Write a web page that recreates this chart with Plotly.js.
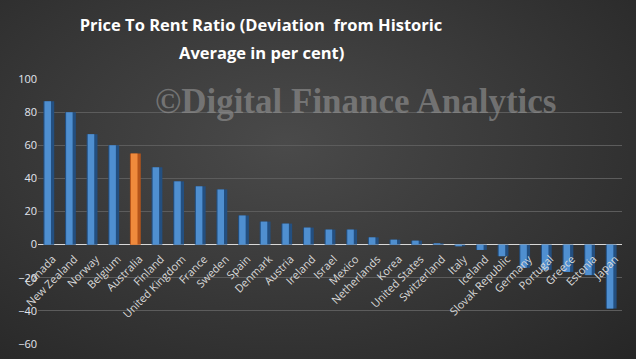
<!DOCTYPE html>
<html><head><meta charset="utf-8">
<script src="https://cdn.plot.ly/plotly-3.0.1.min.js"></script>
<style>
html,body{margin:0;padding:0;}
#chart{width:636px;height:359px;background:radial-gradient(ellipse at 45% 40%, #4a4a4a 0%, #3a3a3a 45%, #262626 100%);}
</style></head>
<body><div id="chart"></div>
<script>
const countries = ["Canada","New Zealand","Norway","Belgium","Australia","Finland","United Kingdom","France","Sweden","Spain","Denmark","Austria","Ireland","Israel","Mexico","Netherlands","Korea","United States","Switzerland","Italy","Iceland","Slovak Republic","Germany","Portugal","Greece","Estonia","Japan"];
const deviation = [86.5,80,66.7,60,55,46.7,38.2,35.2,33.3,17.6,13.9,12.7,10.3,9.1,9.1,4.4,3,2.4,0.8,-1,-3.2,-7,-14,-15.4,-16.5,-18.4,-38.6];
const highlight = "Australia";
const yTicks = [-60,-40,-20,0,20,40,60,80,100];

const baseColors = countries.map(c => c === highlight ? "#b5541a" : "#234f80");
const midColors = countries.map(c => c === highlight ? "#f08a3c" : "#4f8fd0");

const traces = [
  {type:"bar", x:countries, y:deviation, width:0.5, marker:{color:baseColors, line:{width:0}}, hoverinfo:"skip"},
  {type:"bar", x:countries, y:deviation, width:0.3, offset:-0.2, marker:{color:midColors, line:{width:0}}, hoverinfo:"skip"}
];

const layout = {
  width:636, height:359,
  paper_bgcolor:"rgba(0,0,0,0)", plot_bgcolor:"rgba(0,0,0,0)",
  margin:{l:38, r:14, t:79, b:15},
  barmode:"overlay",
  showlegend:false,
  title:{text:"Price To Rent Ratio (Deviation  from Historic", font:{family:"Open Sans", size:16.5, color:"#ffffff", weight:"bold"}, x:261/636, xanchor:"center", y:1-25/359, yanchor:"middle", yref:"container", xref:"container"},
  xaxis:{type:"category", range:[-0.5,countries.length-0.5], anchor:"free", position:60/160, showline:false, showgrid:false, ticks:"", tickangle:-45, ticklabelstandoff:5, ticklabelshift:4, tickfont:{family:"Open Sans", size:11, color:"#d9d9d9"}, fixedrange:true},
  yaxis:{range:[-60,100], tickvals:yTicks, showgrid:true, gridcolor:"#5c5c5c", gridwidth:1, zeroline:true, zerolinecolor:"#d8d8d8", zerolinewidth:1.5, tickfont:{family:"Open Sans", size:11, color:"#e2e6ee"}, ticks:"", fixedrange:true},
  annotations:[
    {text:"<b>Average in per cent)</b>", xref:"paper", yref:"paper", x:(261-38)/584, y:1+(79-52)/265, xanchor:"center", yanchor:"middle", showarrow:false, font:{family:"Open Sans", size:16.5, color:"#ffffff"}},
    {text:"<b>©Digital Finance Analytics</b>", xref:"paper", yref:"paper", x:(355-38)/584, y:(344-101)/265, xanchor:"center", yanchor:"middle", showarrow:false, font:{family:"Liberation Serif", size:35, color:"rgba(150,150,150,0.6)", weight:"bold"}}
  ]
};
Plotly.newPlot("chart", traces, layout, {staticPlot:true, displayModeBar:false});
</script></body></html>
